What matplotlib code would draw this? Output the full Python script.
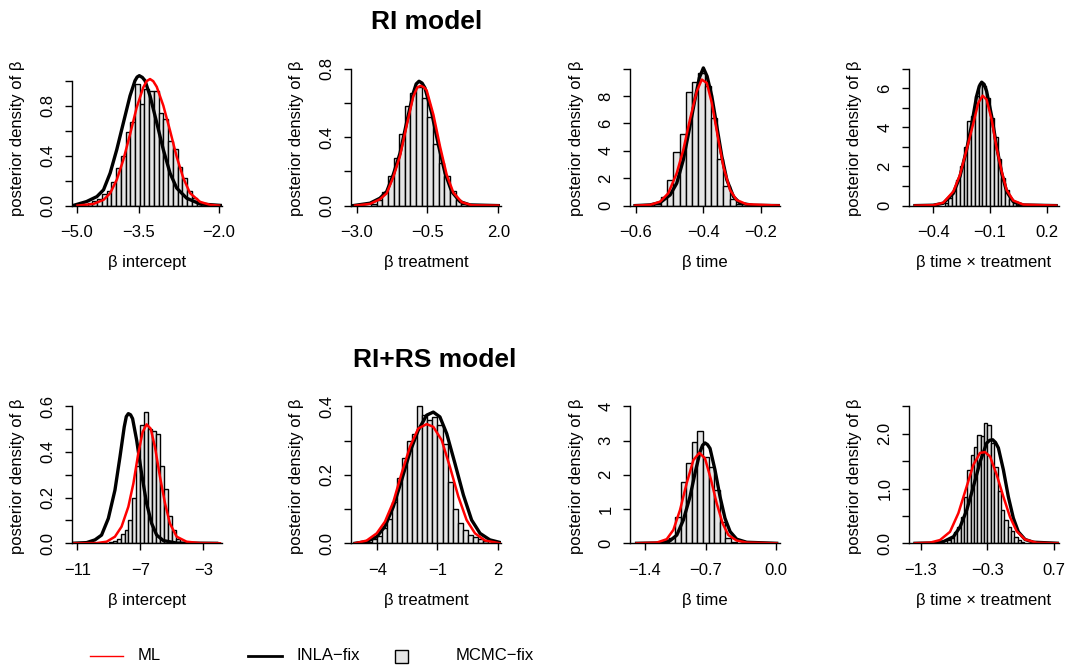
import numpy as np
import matplotlib.pyplot as plt
from matplotlib.lines import Line2D
from matplotlib.patches import Rectangle

plt.rcParams['font.family'] = ['Liberation Sans', 'DejaVu Sans']

# ---------------- RI model ----------------
# beta intercept
ri_int_black_x = [-5.09, -4.80, -4.58, -4.44, -4.30, -4.16, -4.02, -3.88, -3.775, -3.73, -3.684, -3.62, -3.563,
                  -3.458, -3.316, -3.177, -3.035, -2.894, -2.683, -2.40, -1.91]
ri_int_black_y = [0, 0.032, 0.072, 0.126, 0.26, 0.448, 0.663, 0.878, 0.999, 1.028, 1.039, 1.025, 0.999,
                  0.878, 0.663, 0.448, 0.26, 0.14, 0.059, 0.013, 0]
ri_int_red_x = [-4.99, -4.655, -4.44, -4.30, -4.16, -4.02, -3.88, -3.74, -3.60, -3.53, -3.458, -3.39, -3.316,
                -3.177, -3.035, -2.894, -2.754, -2.613, -2.40, -2.19, -2.0]
ri_int_red_y = [0, 0.013, 0.046, 0.099, 0.207, 0.368, 0.569, 0.784, 0.945, 0.995, 1.012, 0.995, 0.95,
                0.80, 0.60, 0.39, 0.22, 0.10, 0.03, 0.006, 0]
ri_int_hist_start, ri_int_hist_width = -4.775, 0.1
ri_int_hist = [0.02, 0.035, 0.05, 0.09, 0.12, 0.19, 0.30, 0.40, 0.59, 0.67, 0.97, 0.81, 0.93, 0.92, 0.92,
               0.74, 0.69, 0.52, 0.45, 0.31, 0.22, 0.12, 0.06, 0.03, 0.012]

# beta treatment
ri_trt_black_x = [-3.12, -2.53, -2.18, -1.94, -1.71, -1.47, -1.23, -1.0, -0.90, -0.80, -0.69, -0.59, -0.35,
                  -0.116, 0.12, 0.355, 0.65, 1.0, 2.0]
ri_trt_black_y = [0, 0.014, 0.043, 0.082, 0.18, 0.306, 0.49, 0.658, 0.71, 0.726, 0.715, 0.687, 0.54,
                  0.355, 0.19, 0.082, 0.023, 0.004, 0]
ri_trt_red_x = [-3.06, -2.53, -2.18, -1.94, -1.71, -1.47, -1.23, -1.0, -0.86, -0.74, -0.62, -0.53, -0.29,
                -0.057, 0.178, 0.413, 0.71, 1.06, 2.0]
ri_trt_red_y = [0, 0.01, 0.037, 0.072, 0.166, 0.29, 0.472, 0.638, 0.69, 0.70, 0.69, 0.673, 0.53,
                0.345, 0.18, 0.076, 0.02, 0.002, 0]
ri_trt_hist_start, ri_trt_hist_width = -2.5, 0.2
ri_trt_hist = [0.012, 0.035, 0.08, 0.17, 0.28, 0.42, 0.58, 0.66, 0.69, 0.63, 0.52, 0.36, 0.25, 0.17,
               0.085, 0.03, 0.01, 0.003]

# beta time
ri_time_black_x = [-0.602, -0.554, -0.522, -0.49, -0.469, -0.448, -0.427, -0.411, -0.397, -0.384, -0.372,
                   -0.357, -0.341, -0.325, -0.309, -0.288, -0.267, -0.224, -0.14]
ri_time_black_y = [0, 0.05, 0.22, 0.78, 1.63, 3.34, 5.78, 7.73, 9.32, 10.05, 9.44,
                   7.98, 5.78, 3.59, 1.88, 0.66, 0.17, 0.02, 0]
ri_time_red_x = [-0.602, -0.554, -0.522, -0.496, -0.469, -0.448, -0.427, -0.405, -0.389, -0.373, -0.357,
                 -0.336, -0.320, -0.299, -0.278, -0.246, -0.139]
ri_time_red_y = [0, 0.05, 0.29, 0.9, 2.37, 4.07, 6.27, 8.34, 9.2, 8.95, 7.49,
                 4.8, 2.85, 1.15, 0.41, 0.1, 0]
ri_time_hist_start, ri_time_hist_width = -0.54, 0.02
ri_time_hist = [0.12, 0.6, 1.9, 3.9, 5.2, 8.3, 9.0, 9.7, 8.7, 6.4, 3.4, 1.4, 0.45, 0.12]

# beta time x treatment
ri_tt_black_x = [-0.497, -0.4, -0.347, -0.294, -0.259, -0.224, -0.197, -0.171, -0.157, -0.144, -0.131,
                 -0.118, -0.091, -0.065, -0.038, -0.012, 0.023, 0.076, 0.25]
ri_tt_black_y = [0, 0.02, 0.12, 0.63, 1.49, 2.85, 4.14, 5.59, 6.1, 6.31, 6.2,
                 5.85, 4.56, 3.03, 1.66, 0.72, 0.2, 0.03, 0]
ri_tt_red_x = [-0.497, -0.4, -0.347, -0.294, -0.259, -0.224, -0.188, -0.162, -0.139, -0.118, -0.091,
               -0.065, -0.038, -0.012, 0.023, 0.076, 0.25]
ri_tt_red_y = [0, 0.02, 0.15, 0.72, 1.57, 2.85, 4.22, 5.25, 5.62, 5.42, 4.39,
               2.94, 1.74, 0.8, 0.26, 0.05, 0]
ri_tt_hist_start, ri_tt_hist_width = -0.34, 0.02
ri_tt_hist = [0.15, 0.4, 0.75, 1.3, 2.0, 3.0, 4.3, 4.6, 5.6, 6.25, 6.1, 5.5, 4.5, 3.5, 2.4, 1.4, 0.8,
              0.35, 0.12, 0.04]

# ---------------- RI+RS model ----------------
rirs_int_black_x = [-11.36, -10.41, -9.88, -9.46, -9.03, -8.61, -8.29, -8.02, -7.89, -7.76, -7.62, -7.49,
                    -7.23, -6.92, -6.60, -6.28, -5.96, -5.54, -4.69, -2.15]
rirs_int_black_y = [0, 0.003, 0.015, 0.036, 0.109, 0.233, 0.379, 0.51, 0.555, 0.568, 0.563, 0.546,
                    0.451, 0.306, 0.175, 0.087, 0.036, 0.012, 0.001, 0]
rirs_int_red_x = [-11.36, -9.77, -9.14, -8.61, -8.19, -7.76, -7.44, -7.13, -6.85, -6.60, -6.34, -6.07,
                  -5.75, -5.43, -5.12, -4.69, -4.06, -3.21, -1.94]
rirs_int_red_y = [0, 0.001, 0.007, 0.029, 0.073, 0.16, 0.262, 0.393, 0.488, 0.521, 0.502, 0.422,
                  0.291, 0.175, 0.087, 0.029, 0.007, 0.001, 0]
rirs_int_hist_start, rirs_int_hist_width = -9.0, 0.25
rirs_int_hist = [0.005, 0.01, 0.02, 0.04, 0.06, 0.10, 0.2, 0.34, 0.52, 0.575, 0.50, 0.49, 0.48, 0.34,
                 0.24, 0.12, 0.06, 0.02]

rirs_trt_black_x = [-5.11, -4.53, -4.03, -3.62, -3.2, -2.79, -2.37, -1.96, -1.54, -1.21, -0.88, -0.54,
                    -0.13, 0.29, 0.70, 1.12, 1.61, 2.28]
rirs_trt_black_y = [0, 0.005, 0.019, 0.049, 0.107, 0.184, 0.267, 0.33, 0.374, 0.383, 0.369, 0.32,
                    0.233, 0.141, 0.068, 0.029, 0.01, 0]
rirs_trt_red_x = [-5.11, -4.53, -4.03, -3.62, -3.2, -2.79, -2.37, -1.96, -1.54, -1.21, -0.79, -0.38,
                  0.04, 0.45, 0.87, 1.37, 2.11]
rirs_trt_red_y = [0, 0.008, 0.029, 0.063, 0.121, 0.204, 0.282, 0.335, 0.348, 0.34, 0.301, 0.223,
                  0.136, 0.068, 0.029, 0.008, 0]
rirs_trt_hist_start, rirs_trt_hist_width = -4.5, 0.25
rirs_trt_hist = [0.004, 0.012, 0.02, 0.045, 0.072, 0.12, 0.19, 0.25, 0.30, 0.32, 0.40, 0.375, 0.36, 0.37,
                 0.345, 0.29, 0.18, 0.10, 0.058, 0.038, 0.025, 0.018, 0.012, 0.006]

rirs_time_black_x = [-1.49, -1.24, -1.13, -1.06, -0.99, -0.919, -0.866, -0.812, -0.785, -0.759, -0.732,
                     -0.705, -0.652, -0.598, -0.545, -0.49, -0.42, -0.313, 0.007]
rirs_time_black_y = [0, 0.01, 0.08, 0.24, 0.68, 1.36, 2.04, 2.67, 2.86, 2.93, 2.88,
                     2.77, 2.14, 1.36, 0.73, 0.34, 0.12, 0.03, 0]
rirs_time_red_x = [-1.49, -1.275, -1.168, -1.097, -1.026, -0.955, -0.883, -0.819, -0.759, -0.698, -0.634,
                   -0.57, -0.509, -0.42, -0.313, 0.007]
rirs_time_red_y = [0, 0.02, 0.12, 0.39, 0.97, 1.75, 2.43, 2.64, 2.48, 1.89, 1.17,
                   0.58, 0.24, 0.08, 0.02, 0]
rirs_time_hist_start, rirs_time_hist_width = -1.20, 0.06
rirs_time_hist = [0.03, 0.15, 0.78, 1.8, 2.33, 2.96, 3.28, 2.52, 2.23, 1.55, 0.63, 0.15, 0.05]

rirs_tt_black_x = [-1.385, -1.11, -0.96, -0.81, -0.71, -0.61, -0.51, -0.41, -0.312, -0.267, -0.222, -0.18,
                   -0.137, -0.062, 0.012, 0.087, 0.162, 0.262, 0.387, 0.76]
rirs_tt_black_y = [0, 0.006, 0.03, 0.12, 0.30, 0.61, 1.04, 1.49, 1.83, 1.88, 1.89, 1.84,
                   1.74, 1.34, 0.85, 0.46, 0.21, 0.07, 0.02, 0]
rirs_tt_red_x = [-1.385, -1.16, -1.01, -0.861, -0.736, -0.611, -0.512, -0.412, -0.337, -0.262, -0.162,
                 -0.062, 0.037, 0.137, 0.262, 0.437, 0.76]
rirs_tt_red_y = [0, 0.012, 0.06, 0.21, 0.55, 1.04, 1.43, 1.65, 1.665, 1.585, 1.25,
                 0.85, 0.48, 0.22, 0.07, 0.01, 0]
rirs_tt_hist_start, rirs_tt_hist_width = -0.90, 0.05
rirs_tt_hist = [0.06, 0.1, 0.2, 0.3, 0.48, 0.85, 1.34, 1.62, 1.75, 1.98, 1.95, 2.2, 2.16, 1.83, 1.4, 0.95,
                0.6, 0.42, 0.3, 0.22, 0.12, 0.06, 0.02]

# axis tick positions / labels
x_ticks = [[-5.0, -3.69, -2.0], [-3.0, -0.5, 2.0], [-0.6, -0.384, -0.2], [-0.4, -0.1, 0.2],
           [-11, -7, -3], [-4, -1, 2], [-1.4, -0.751, 0.0], [-1.3, -0.3, 0.7]]
x_tick_labels = [["\u22125.0", "\u22123.5", "\u22122.0"], ["\u22123.0", "\u22120.5", "2.0"],
                 ["\u22120.6", "\u22120.4", "\u22120.2"], ["\u22120.4", "\u22120.1", "0.2"],
                 ["\u221211", "\u22127", "\u22123"], ["\u22124", "\u22121", "2"],
                 ["\u22121.4", "\u22120.7", "0.0"], ["\u22121.3", "\u22120.3", "0.7"]]
y_ticks = [[0, 0.2, 0.4, 0.6, 0.8, 1.0], [0, 0.2, 0.4, 0.6, 0.8], [0, 2, 4, 6, 8, 10],
           [0, 1, 2, 3, 4, 5, 6, 7], [0, 0.1, 0.2, 0.3, 0.4, 0.5, 0.6], [0, 0.1, 0.2, 0.3, 0.4],
           [0, 1, 2, 3, 4], [0, 0.5, 1.0, 1.5, 2.0, 2.5]]
y_tick_labels = [["0.0", "", "0.4", "", "0.8", ""], ["0.0", "", "0.4", "", "0.8"],
                 ["0", "2", "4", "6", "8", ""], ["0", "", "2", "", "4", "", "6", ""],
                 ["0.0", "", "0.2", "", "0.4", "", "0.6"], ["0.0", "", "0.2", "", "0.4"],
                 ["0", "1", "2", "3", "4"], ["0.0", "", "1.0", "", "2.0", ""]]
x_labels = ["\u03b2 intercept", "\u03b2 treatment", "\u03b2 time", "\u03b2 time \u00d7 treatment"] * 2

panels = [
    (ri_int_black_x, ri_int_black_y, ri_int_red_x, ri_int_red_y, ri_int_hist_start, ri_int_hist_width, ri_int_hist),
    (ri_trt_black_x, ri_trt_black_y, ri_trt_red_x, ri_trt_red_y, ri_trt_hist_start, ri_trt_hist_width, ri_trt_hist),
    (ri_time_black_x, ri_time_black_y, ri_time_red_x, ri_time_red_y, ri_time_hist_start, ri_time_hist_width, ri_time_hist),
    (ri_tt_black_x, ri_tt_black_y, ri_tt_red_x, ri_tt_red_y, ri_tt_hist_start, ri_tt_hist_width, ri_tt_hist),
    (rirs_int_black_x, rirs_int_black_y, rirs_int_red_x, rirs_int_red_y, rirs_int_hist_start, rirs_int_hist_width, rirs_int_hist),
    (rirs_trt_black_x, rirs_trt_black_y, rirs_trt_red_x, rirs_trt_red_y, rirs_trt_hist_start, rirs_trt_hist_width, rirs_trt_hist),
    (rirs_time_black_x, rirs_time_black_y, rirs_time_red_x, rirs_time_red_y, rirs_time_hist_start, rirs_time_hist_width, rirs_time_hist),
    (rirs_tt_black_x, rirs_tt_black_y, rirs_tt_red_x, rirs_tt_red_y, rirs_tt_hist_start, rirs_tt_hist_width, rirs_tt_hist),
]

# layout (pixels)
W, H = 1068, 669
col_left = [72, 351, 630, 909]
row_base = [205.6, 543.3]
AX_W, AX_H = 150, 142
xlims = [(-5.106, -1.937), (-3.201, 2.096), (-0.6182, -0.1393), (-0.5286, 0.2651),
         (-11.337, -1.813), (-5.310, 2.164), (-1.5603, 0.0428), (-1.4751, 0.7704)]
ytops = [1.1355, 0.829, 10.366, 7.26, 0.622, 0.4145, 4.145, 2.592]
FS = 12

fig = plt.figure(figsize=(W / 100, H / 100), dpi=100)

for i, (bx, by, rx, ry, hstart, hwidth, hh) in enumerate(panels):
    r, c = divmod(i, 4)
    ax = fig.add_axes([col_left[c] / W, (H - row_base[r]) / H, AX_W / W, AX_H / H])
    edges = hstart + hwidth * np.arange(len(hh))
    ax.bar(edges, hh, width=hwidth, align='edge', color='#e5e5e5', edgecolor='black', linewidth=1.0)
    ax.plot(bx, by, color='black', lw=2.4, solid_joinstyle='round')
    ax.plot(rx, ry, color='#ff0000', lw=1.8, solid_joinstyle='round')
    ax.set_xlim(*xlims[i])
    ax.set_ylim(0, ytops[i])
    for s in ['top', 'right']:
        ax.spines[s].set_visible(False)
    ax.spines['left'].set_bounds(0, y_ticks[i][-1])
    ax.spines['left'].set_linewidth(1.0)
    ax.spines['bottom'].set_linewidth(1.0)
    ax.set_xticks(x_ticks[i])
    ax.set_xticklabels(x_tick_labels[i])
    ax.set_yticks(y_ticks[i])
    ax.set_yticklabels(y_tick_labels[i], rotation=90, va='center')
    ax.tick_params(axis='both', direction='out', length=5, width=1.0, labelsize=FS, colors='black')
    ax.tick_params(axis='x', pad=9)
    ax.tick_params(axis='y', pad=7)
    ax.text(0.5, -57 / AX_H, x_labels[i], transform=ax.transAxes, ha='center', va='center', fontsize=FS)
    ax.text(-54 / AX_W, 0.475, "posterior density of \u03b2", transform=ax.transAxes, rotation=90,
            ha='center', va='center', fontsize=FS)

fig.text(427 / W, 1 - 22 / H, "RI model", ha='center', va='center', fontsize=19, fontweight='bold')
fig.text(435 / W, 1 - 360 / H, "RI+RS model", ha='center', va='center', fontsize=19, fontweight='bold')

# legend row
ly = 1 - 656 / H
fig.add_artist(Line2D([90 / W, 123 / W], [ly, ly], color='#ff0000', lw=1.0))
fig.text(138 / W, ly, "ML", va='center', fontsize=FS)
fig.add_artist(Line2D([248 / W, 282 / W], [ly, ly], color='black', lw=2.0))
fig.text(297 / W, ly, "INLA\u2212fix", va='center', fontsize=FS)
fig.add_artist(Rectangle((395 / W, (669 - 662.5) / H), 13 / W, 13 / H, facecolor='#e5e5e5',
                         edgecolor='black', lw=1.0, transform=fig.transFigure))
fig.text(456 / W, ly, "MCMC\u2212fix", va='center', fontsize=FS)

fig.savefig('out.png', dpi=100)
